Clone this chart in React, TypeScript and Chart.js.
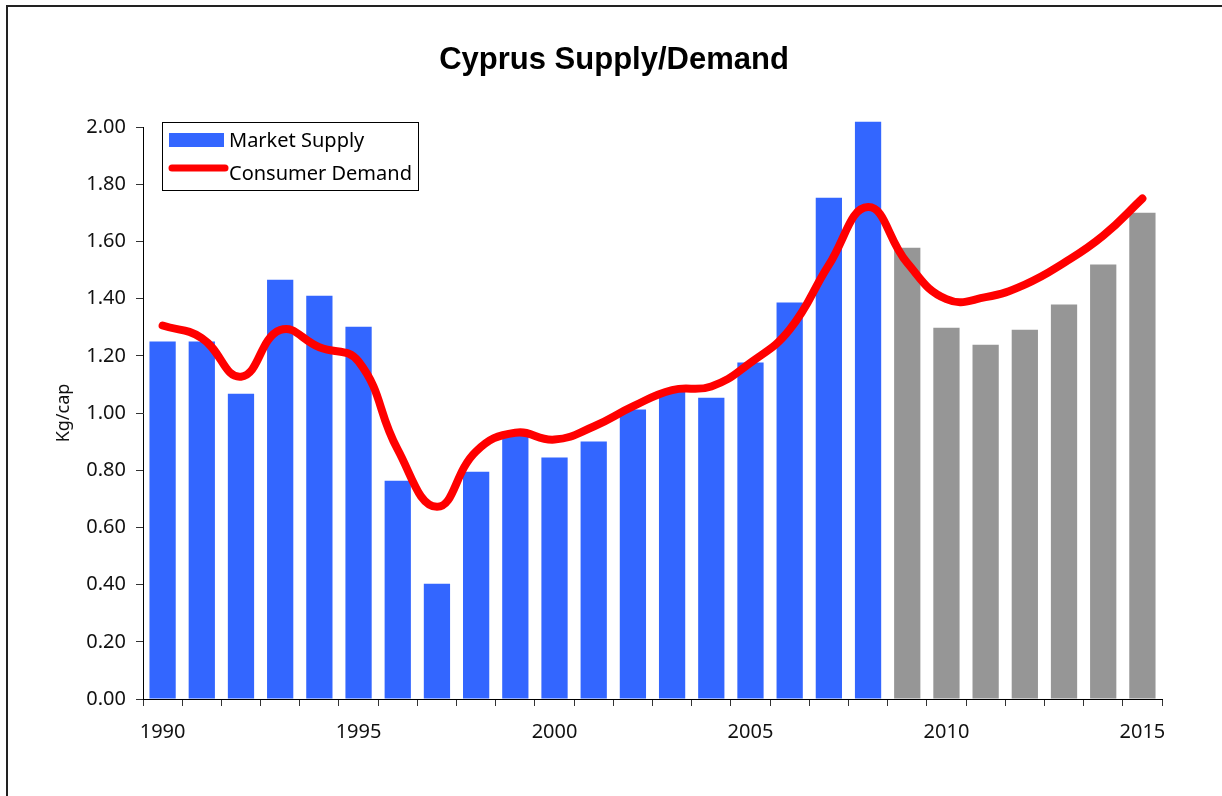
import React, { useEffect, useRef } from "react";
import { Chart, registerables } from "chart.js";

Chart.register(...registerables);

const titleText = "Cyprus Supply/Demand";
const yAxisTitle = "Kg/cap";
const years = [
  "1990", "1991", "1992", "1993", "1994", "1995", "1996", "1997", "1998", "1999",
  "2000", "2001", "2002", "2003", "2004", "2005", "2006", "2007", "2008", "2009",
  "2010", "2011", "2012", "2013", "2014", "2015",
];
const shownYearLabels = ["1990", "1995", "2000", "2005", "2010", "2015"];
const marketSupply = [
  1.25, 1.25, 1.067, 1.466, 1.41, 1.302, 0.763, 0.403, 0.795, 0.925,
  0.844, 0.9, 1.012, 1.08, 1.053, 1.177, 1.386, 1.753, 2.018, 1.578,
  1.298, 1.239, 1.291, 1.379, 1.519, 1.7,
];
const consumerDemand = [
  1.306, 1.262, 1.127, 1.29, 1.23, 1.18, 0.872, 0.672, 0.866, 0.931,
  0.907, 0.953, 1.023, 1.08, 1.093, 1.176, 1.292, 1.518, 1.72, 1.525,
  1.398, 1.405, 1.449, 1.525, 1.62, 1.75,
];
// years that are forecasts (drawn in grey)
const forecastYears = ["2009", "2010", "2011", "2012", "2013", "2014", "2015"];

const BLUE = "#3366FF";
const GREY = "#969696";
const RED = "#FF0000";
const FONT = "'Noto Sans', 'DejaVu Sans', sans-serif";

const overlayPlugin = {
  id: "overlay",
  afterDraw(chart: any) {
    const ctx = chart.ctx;
    ctx.save();
    // title
    ctx.fillStyle = "#000";
    ctx.font = "bold 31px 'Liberation Sans', Arial, sans-serif";
    ctx.textAlign = "center";
    ctx.textBaseline = "middle";
    ctx.fillText(titleText, 614, 60);

    // legend
    const ca = chart.chartArea;
    const bx = ca.left + 19;
    const by = ca.top - 5;
    const bw = 256;
    const bh = 68;
    ctx.fillStyle = "#fff";
    ctx.fillRect(bx, by, bw, bh);
    ctx.strokeStyle = "#000";
    ctx.lineWidth = 1;
    ctx.strokeRect(bx + 0.5, by + 0.5, bw, bh);
    const ds = chart.data.datasets;
    const barDs = ds.find((d: any) => d.type === "bar");
    const lineDs = ds.find((d: any) => d.type === "line");
    ctx.fillStyle = BLUE;
    ctx.fillRect(bx + 7, by + 11, 55, 14);
    ctx.strokeStyle = RED;
    ctx.lineWidth = 7;
    ctx.lineCap = "round";
    ctx.beginPath();
    ctx.moveTo(bx + 10, by + 46);
    ctx.lineTo(bx + 63, by + 46);
    ctx.stroke();
    ctx.fillStyle = "#000";
    ctx.font = `20px ${FONT}`;
    ctx.textAlign = "left";
    ctx.textBaseline = "middle";
    ctx.fillText(barDs.label, bx + 67, by + 19);
    ctx.fillText(lineDs.label, bx + 67, by + 52);
    ctx.restore();
  },
};

export default function App() {
  const ref = useRef<HTMLCanvasElement>(null);
  useEffect(() => {
    if (!ref.current) return;
    const chart = new Chart(ref.current, {
      data: {
        labels: years,
        datasets: [
          {
            type: "line",
            label: "Consumer Demand",
            data: consumerDemand,
            borderColor: RED,
            borderWidth: 8,
            borderCapStyle: "round",
            borderJoinStyle: "round",
            pointRadius: 0,
            tension: 0.45,
            order: 0,
          } as any,
          {
            type: "bar",
            label: "Market Supply",
            data: marketSupply,
            backgroundColor: years.map((y) => (forecastYears.includes(y) ? GREY : BLUE)),
            borderWidth: 0,
            categoryPercentage: 1,
            barPercentage: 0.67,
            clip: false,
            order: 1,
          } as any,
        ],
      },
      options: {
        responsive: false,
        animation: false,
        layout: { padding: { left: 0, top: 127, right: 60, bottom: 0 } },
        plugins: {
          legend: { display: false },
          title: { display: false },
          tooltip: { enabled: false },
        },
        scales: {
          x: {
            type: "category",
            offset: true,
            grid: {
              offset: true,
              drawOnChartArea: false,
              drawTicks: true,
              tickLength: 7,
              color: "#333",
            },
            border: { display: true, color: "#000", width: 1 },
            ticks: {
              autoSkip: false,
              maxRotation: 0,
              minRotation: 0,
              padding: 14,
              color: "#111",
              font: { family: FONT, size: 20 },
              callback: function (this: any, v: any, i: number) {
                const lab = years[i];
                return shownYearLabels.includes(lab) ? lab : "";
              },
            },
            afterFit(scale: any) {
              scale.height = 97;
            },
          },
          y: {
            min: 0,
            max: 2,
            grid: {
              drawOnChartArea: false,
              drawTicks: true,
              tickLength: 7,
              color: "#333",
            },
            border: { display: true, color: "#000", width: 1 },
            ticks: {
              stepSize: 0.2,
              padding: 10,
              color: "#111",
              font: { family: FONT, size: 20 },
              callback: (v: any) => Number(v).toFixed(2),
            },
            title: {
              display: true,
              text: yAxisTitle,
              color: "#111",
              font: { family: FONT, size: 18 },
              padding: { top: 53, bottom: 0 },
            },
            afterFit(scale: any) {
              scale.width = 143;
            },
          },
        },
      },
      plugins: [overlayPlugin],
    } as any);
    return () => chart.destroy();
  }, []);

  return (
    <div
      style={{
        position: "fixed",
        left: 0,
        top: 0,
        width: 1222,
        height: 796,
        overflow: "hidden",
        background: "#fff",
      }}
    >
      <div
        style={{
          position: "absolute",
          left: 6,
          top: 5,
          width: 1400,
          height: 1000,
          borderTop: "2px solid #222",
          borderLeft: "2px solid #222",
        }}
      />
      <canvas
        ref={ref}
        width={1222}
        height={796}
        style={{ position: "absolute", left: 0, top: 0, width: 1222, height: 796 }}
      />
    </div>
  );
}
